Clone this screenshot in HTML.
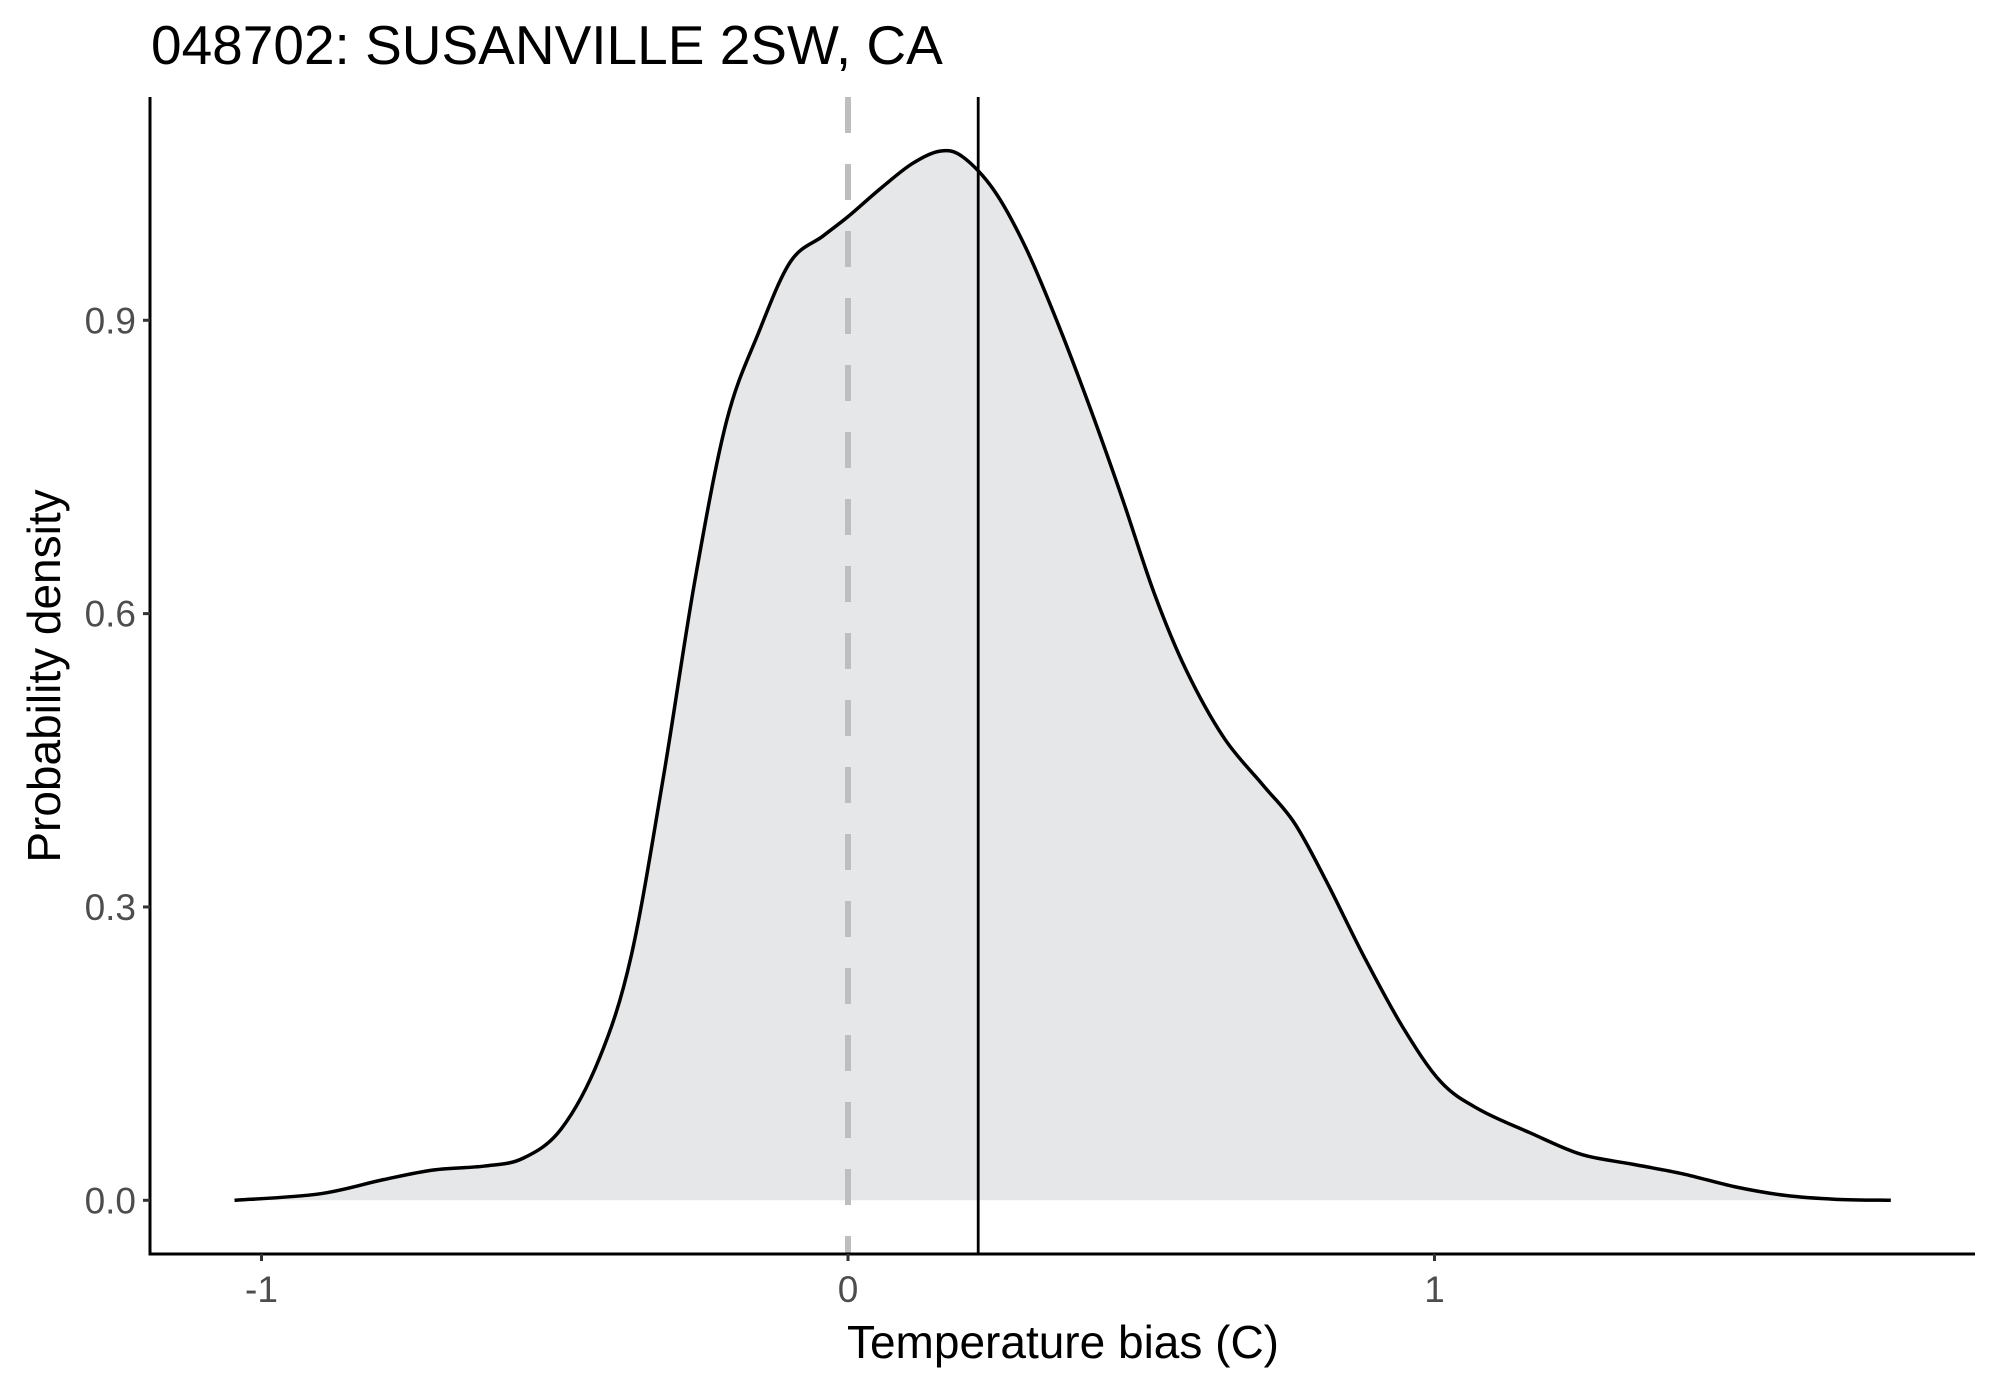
<!DOCTYPE html>
<html><head><meta charset="utf-8"><style>
html,body{margin:0;padding:0;background:#fff;}
svg{display:block;font-family:"Liberation Sans",sans-serif;}
</style></head><body>
<svg id="chart" width="1990" height="1384" viewBox="0 0 1990 1384">
<text x="151" y="64" font-size="55" fill="#000">048702: SUSANVILLE 2SW, CA</text>
<g id="plot"></g>
<text x="1063" y="1358" font-size="46" text-anchor="middle" fill="#000">Temperature bias (C)</text>
<text transform="translate(60,676) rotate(-90)" font-size="46" text-anchor="middle" fill="#000">Probability density</text>
</svg>
<script>
const densX=[-1.046,-0.902,-0.793,-0.707,-0.62,-0.554,-0.489,-0.424,-0.37,-0.315,-0.261,-0.207,-0.152,-0.098,-0.043,0,0.054,0.109,0.157,0.196,0.25,0.304,0.359,0.413,0.467,0.522,0.576,0.641,0.707,0.761,0.815,0.88,0.946,1.011,1.076,1.163,1.25,1.337,1.424,1.511,1.598,1.685,1.778];
const densY=[0,0.0065,0.021,0.031,0.035,0.043,0.073,0.145,0.249,0.432,0.634,0.797,0.888,0.96,0.986,1.006,1.034,1.06,1.073,1.067,1.032,0.973,0.895,0.81,0.719,0.621,0.543,0.473,0.425,0.386,0.327,0.249,0.177,0.121,0.093,0.069,0.047,0.037,0.027,0.014,0.005,0.001,0];
const meanBias=[0.222];
const refLine=[0];
const xTicks=[-1,0,1];
const xTickLabels=["-1","0","1"];
const yTicks=[0,0.3,0.6,0.9];
const yTickLabels=["0.0","0.3","0.6","0.9"];

const X=v=>848+v*586.5;
const Y=v=>1200.3-v*977.8;
const pTop=97,pBottom=1254,pLeft=150,pRight=1975;
const ns="http://www.w3.org/2000/svg";
const g=document.getElementById('plot');
function mk(t,a){const e=document.createElementNS(ns,t);for(const k in a)e.setAttribute(k,a[k]);g.appendChild(e);return e;}

const pts=densX.map((x,i)=>[X(x),Y(densY[i])]);
let d="M"+pts[0][0]+","+pts[0][1];
for(let i=0;i<pts.length-1;i++){
 const p0=pts[Math.max(0,i-1)],p1=pts[i],p2=pts[i+1],p3=pts[Math.min(pts.length-1,i+2)];
 const c1=[p1[0]+(p2[0]-p0[0])/6,p1[1]+(p2[1]-p0[1])/6];
 const c2=[p2[0]-(p3[0]-p1[0])/6,p2[1]-(p3[1]-p1[1])/6];
 d+=" C"+c1[0]+","+c1[1]+" "+c2[0]+","+c2[1]+" "+p2[0]+","+p2[1];
}
const fill=mk('path',{d:d+" Z",fill:"#e6e7e8",stroke:"none"});



refLine.forEach(v=>{
 const l=mk('line',{x1:X(v),x2:X(v),y1:pTop,y2:pBottom,stroke:"#bebebe","stroke-width":6,"stroke-dasharray":"36 31"});
 
 
});
const curve=mk('path',{d:d,fill:"none",stroke:"#000","stroke-width":3.5,"stroke-linejoin":"round"});


meanBias.forEach(v=>{
 const l=mk('line',{x1:X(v),x2:X(v),y1:pTop,y2:pBottom,stroke:"#000","stroke-width":2.8});
 
 
});

const ya=mk('line',{x1:pLeft,x2:pLeft,y1:pTop,y2:pBottom+1.5,stroke:"#000","stroke-width":3});


const xa=mk('line',{x1:pLeft-1.5,x2:pRight,y1:pBottom,y2:pBottom,stroke:"#000","stroke-width":3});



yTicks.forEach((v,i)=>{
 const t=mk('line',{x1:pLeft-7,x2:pLeft,y1:Y(v),y2:Y(v),stroke:"#333","stroke-width":3});
 
 
 const l=mk('text',{x:pLeft-14,y:Y(v)+13,"font-size":37,"text-anchor":"end",fill:"#4d4d4d"});
 l.textContent=yTickLabels[i];
 
 
});
xTicks.forEach((v,i)=>{
 const t=mk('line',{x1:X(v),x2:X(v),y1:pBottom,y2:pBottom+7,stroke:"#333","stroke-width":3});
 
 
 const l=mk('text',{x:X(v),y:pBottom+48,"font-size":37,"text-anchor":"middle",fill:"#4d4d4d"});
 l.textContent=xTickLabels[i];
 
 
});
</script>
</body></html>
